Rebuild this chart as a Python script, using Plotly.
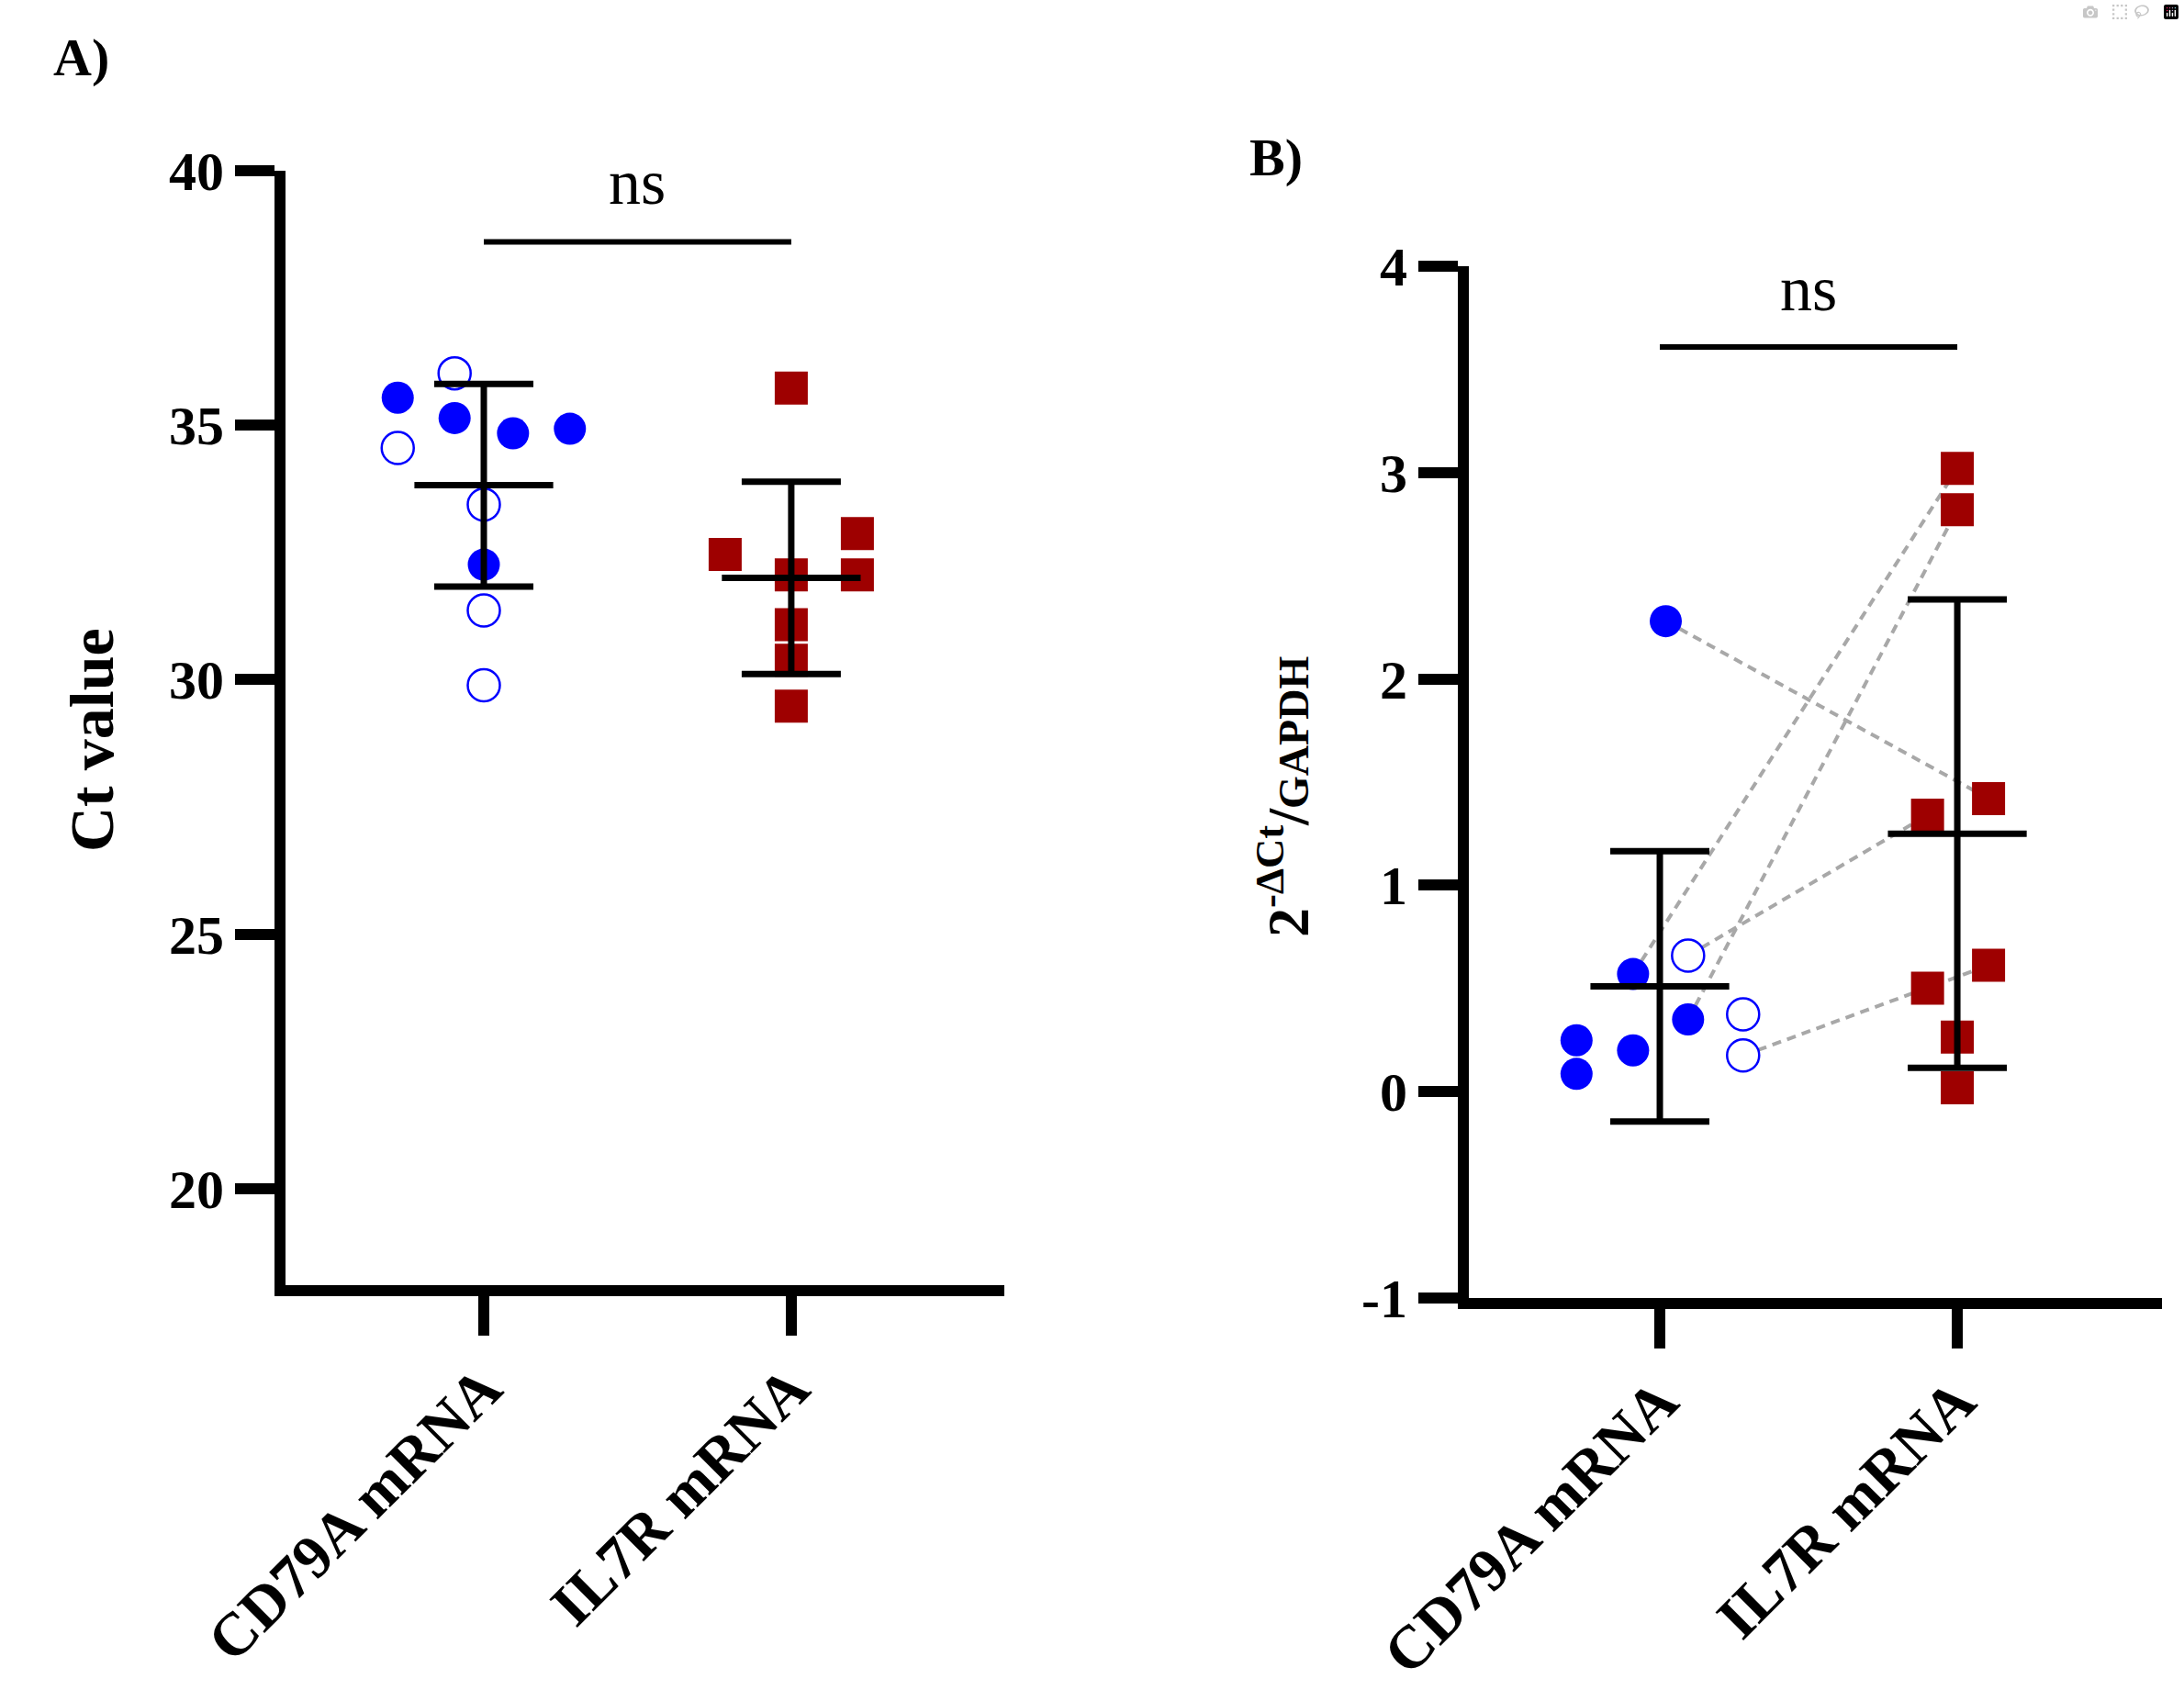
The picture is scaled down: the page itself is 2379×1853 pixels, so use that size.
import plotly.graph_objects as go

W, H = 2379, 1853

categories = ["CD79A mRNA", "IL7R mRNA"]

# panel A - raw Ct values
cd79a_ct = [35.54, 34.55, 36.02, 35.14, 34.84, 34.93, 33.44, 32.26, 31.36, 29.89]
cd79a_ct_open = [False, True, True, False, False, False, True, False, True, True]
cd79a_ct_jitter = [-0.28, -0.28, -0.095, -0.095, 0.095, 0.28, 0, 0, 0, 0]
il7r_ct = [35.73, 32.46, 32.06, 32.87, 32.06, 31.08, 30.38, 29.48]
il7r_ct_jitter = [0, -0.215, 0, 0.215, 0.215, 0, 0, 0]
ct_mean = [33.82, 32.0]
ct_sd = [1.99, 1.89]
ct_ticks = [20, 25, 30, 35, 40]

# panel B - 2^-dCt relative to GAPDH
cd79a_rel = [2.28, 0.249, 0.086, 0.57, 0.20, 0.35, 0.659, 0.375, 0.175]
cd79a_rel_open = [False, False, False, False, False, False, True, True, True]
cd79a_rel_jitter = [0.02, -0.28, -0.28, -0.09, -0.09, 0.095, 0.095, 0.28, 0.28]
il7r_rel = [3.02, 2.82, 1.42, 1.34, 0.612, 0.501, 0.265, 0.019]
il7r_rel_jitter = [0, 0, 0.105, -0.1, 0.105, -0.1, 0, 0]
rel_mean = [0.51, 1.25]
rel_sd = [0.655, 1.135]
rel_ticks = [-1, 0, 1, 2, 3, 4]
# paired samples: (index in cd79a_rel, index in il7r_rel)
pairs = [(0, 2), (3, 0), (5, 1), (6, 3), (8, 4)]

BLUE = "#0000ff"
RED = "#9e0000"
FONT = "Liberation Serif"


def px(x):
    return x / W


def py(y):
    return 1 - y / H


def circles(vals, jit, opn, pos, want_open, xa, ya):
    xs = [pos + j for v, j, o in zip(vals, jit, opn) if o == want_open]
    ys = [v for v, j, o in zip(vals, jit, opn) if o == want_open]
    if want_open:
        mk = dict(symbol="circle", size=35, color="white", line=dict(color=BLUE, width=2.5))
    else:
        mk = dict(symbol="circle", size=35, color=BLUE, line=dict(width=0))
    return go.Scatter(x=xs, y=ys, mode="markers", marker=mk, xaxis=xa, yaxis=ya,
                      showlegend=False, hoverinfo="y")


def squares(vals, jit, pos, xa, ya):
    return go.Scatter(x=[pos + j for j in jit], y=vals, mode="markers",
                      marker=dict(symbol="square", size=36, color=RED, line=dict(width=0)),
                      xaxis=xa, yaxis=ya, showlegend=False, hoverinfo="y")


def mean_sd(means, sds, xa, ya):
    return go.Scatter(x=[0, 1], y=means, mode="markers",
                      marker=dict(symbol="line-ew", size=108, color="black",
                                  line=dict(width=7, color="black")),
                      error_y=dict(type="data", array=sds, width=54, thickness=7, color="black"),
                      xaxis=xa, yaxis=ya, showlegend=False, hoverinfo="y")


fig = go.Figure()

# panel A
fig.add_trace(circles(cd79a_ct, cd79a_ct_jitter, cd79a_ct_open, 0, False, "x", "y"))
fig.add_trace(circles(cd79a_ct, cd79a_ct_jitter, cd79a_ct_open, 0, True, "x", "y"))
fig.add_trace(squares(il7r_ct, il7r_ct_jitter, 1, "x", "y"))
fig.add_trace(mean_sd(ct_mean, ct_sd, "x", "y"))

# panel B - dashed links between paired samples first, so markers sit on top
for i, k in pairs:
    fig.add_trace(go.Scatter(
        x=[0 + cd79a_rel_jitter[i], 1 + il7r_rel_jitter[k]],
        y=[cd79a_rel[i], il7r_rel[k]],
        mode="lines", line=dict(color="#a8a8a8", width=4, dash="10px,7px"),
        xaxis="x2", yaxis="y2", showlegend=False, hoverinfo="skip"))
fig.add_trace(circles(cd79a_rel, cd79a_rel_jitter, cd79a_rel_open, 0, False, "x2", "y2"))
fig.add_trace(circles(cd79a_rel, cd79a_rel_jitter, cd79a_rel_open, 0, True, "x2", "y2"))
fig.add_trace(squares(il7r_rel, il7r_rel_jitter, 1, "x2", "y2"))
fig.add_trace(mean_sd(rel_mean, rel_sd, "x2", "y2"))

axis_style = dict(showline=True, linewidth=12, linecolor="black", ticks="outside",
                  ticklen=43, tickwidth=12, tickcolor="black", showgrid=False,
                  zeroline=False, fixedrange=True, automargin=False)
ytick_font = dict(family=FONT, size=60, color="black", weight="bold")
xtick_font = dict(family=FONT, size=66, color="black", weight="bold")

fig.update_layout(
    width=W, height=H,
    margin=dict(l=0, r=0, t=0, b=0, pad=0, autoexpand=False),
    paper_bgcolor="white", plot_bgcolor="white",
    xaxis=dict(axis_style, domain=[px(311), px(1094)], range=[-0.645, 1.693],
               tickvals=[0, 1], ticktext=categories, tickangle=-45, tickfont=xtick_font,
               ticklabelstandoff=-8, anchor="y"),
    yaxis=dict(axis_style, domain=[py(1400), py(186)], range=[18.1, 40],
               tickvals=ct_ticks, ticktext=[str(t) for t in ct_ticks],
               tickfont=ytick_font, anchor="x"),
    xaxis2=dict(axis_style, domain=[px(1600), px(2355)], range=[-0.642, 1.688],
                tickvals=[0, 1], ticktext=categories, tickangle=-45, tickfont=xtick_font,
                ticklabelstandoff=-8, anchor="y2"),
    yaxis2=dict(axis_style, domain=[py(1414), py(290)], range=[-1, 4],
                tickvals=rel_ticks, ticktext=[str(t) for t in rel_ticks],
                tickfont=ytick_font, anchor="x2"),
)

# significance brackets
fig.add_shape(type="line", xref="x", yref="y", x0=0, x1=1, y0=38.6, y1=38.6,
              line=dict(color="black", width=6))
fig.add_shape(type="line", xref="x2", yref="y2", x0=0, x1=1, y0=3.608, y1=3.608,
              line=dict(color="black", width=6))

ann = [
    dict(text="ns", xref="x", yref="y", x=0.5, y=39.78, font=dict(size=70)),
    dict(text="ns", xref="x2", yref="y2", x=0.5, y=3.89, font=dict(size=70)),
    dict(text="<b>A)</b>", xref="paper", yref="paper", x=px(88), y=py(62), font=dict(size=58)),
    dict(text="<b>B)</b>", xref="paper", yref="paper", x=px(1390), y=py(172), font=dict(size=58)),
    dict(text="<b>Ct value</b>", xref="paper", yref="paper", x=px(100), y=py(806),
         textangle=-90, font=dict(size=68)),
    dict(text="<b>2<sup>-ΔCt</sup>/<span style='font-size:46px'>GAPDH</span></b>",
         xref="paper", yref="paper", x=px(1398), y=py(868), textangle=-90, font=dict(size=64)),
]
for a in ann:
    a["font"] = dict(family=FONT, color="black", **a["font"])
    fig.add_annotation(showarrow=False, xanchor="center", yanchor="middle", **a)

fig.write_html("out.html", post_script="document.body.style.margin='0';")
